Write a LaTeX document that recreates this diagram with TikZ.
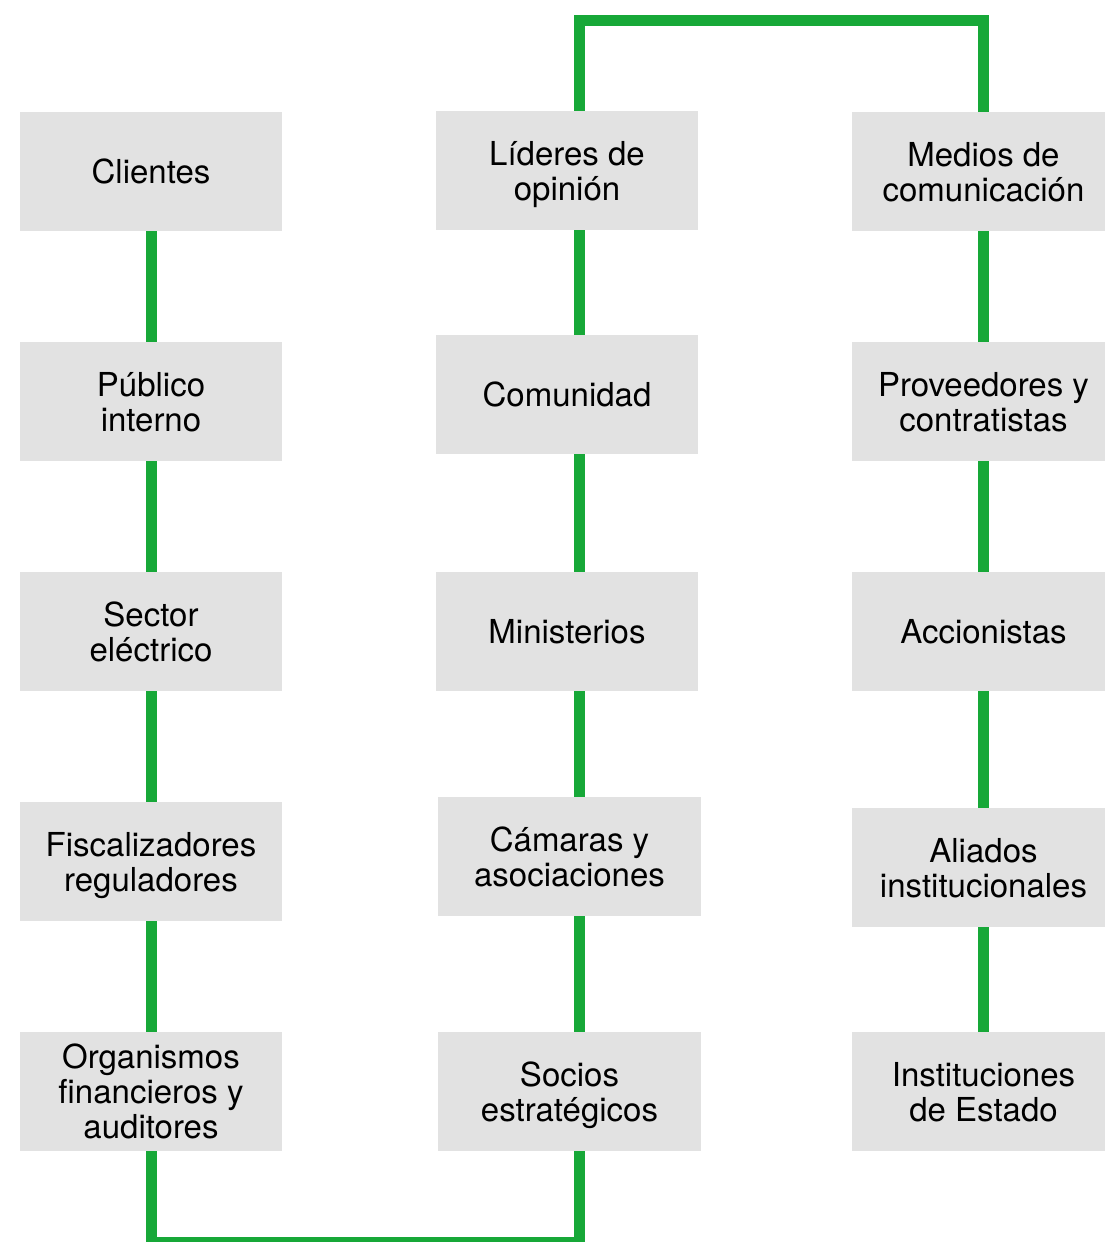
\documentclass[tikz,border=0pt]{standalone}
\usepackage{fontspec}
\setmainfont{TeX Gyre Heros}
\definecolor{linkgreen}{RGB}{23,168,56}
\definecolor{boxgray}{RGB}{226,226,226}
\tikzset{
  box/.style={fill=boxgray, draw=none, minimum height=119pt, inner sep=0pt,
    align=center, text depth=0pt, font=\fontsize{33}{35}\selectfont},
  link/.style={draw=linkgreen, line width=11pt, line join=miter}
}
\begin{document}
\begin{tikzpicture}[x=1pt,y=-1pt]

\useasboundingbox (0,0) rectangle (1105,1242);  % page size

% Left column
\node[box, minimum width=262pt] (cli) at (151,171.5) {Clientes};
\node[box, minimum width=262pt] (pub) at (151,401.5) {Público\\interno};
\node[box, minimum width=262pt] (sec) at (151,631.5) {Sector\\eléctrico};
\node[box, minimum width=262pt] (fis) at (151,861.5) {Fiscalizadores\\reguladores};
\node[box, minimum width=262pt] (org) at (151,1091.5) {Organismos\\financieros y\\auditores};
% Middle column
\node[box, minimum width=262pt] (lid) at (567,170.5) {Líderes de\\opinión};
\node[box, minimum width=262pt] (com) at (567,394.5) {Comunidad};
\node[box, minimum width=262pt] (min) at (567,631.5) {Ministerios};
\node[box, minimum width=263pt] (cam) at (569.5,856.5) {Cámaras y\\asociaciones};
\node[box, minimum width=263pt] (soc) at (569.5,1091.5) {Socios\\estratégicos};
% Right column (runs off the page edge)
\node[box, minimum width=263pt] (med) at (983.5,171.5) {Medios de\\comunicación};
\node[box, minimum width=263pt] (pro) at (983.5,401.5) {Proveedores y\\contratistas};
\node[box, minimum width=263pt] (acc) at (983.5,631.5) {Accionistas};
\node[box, minimum width=263pt] (ali) at (983.5,867.5) {Aliados\\institucionales};
\node[box, minimum width=263pt] (ins) at (983.5,1091.5) {Instituciones\\de Estado};

% corner points of the green line
\coordinate (c1) at (151.5,1242);
\coordinate (c2) at (579.5,1242);
\coordinate (c2top) at (579.5,20);
\coordinate (c3) at (983.5,20);

\foreach \a/\b in {cli/pub, pub/sec, sec/fis, fis/org}
    \draw[link] (\a.south -| c1) -- (\b.north -| c1);
\foreach \a/\b in {lid/com, com/min, min/cam, cam/soc}
    \draw[link] (\a.south -| c2) -- (\b.north -| c2);
\foreach \a/\b in {med/pro, pro/acc, acc/ali, ali/ins}
    \draw[link] (\a.south -| c3) -- (\b.north -| c3);

% Bottom link
\draw[link] (org.south -| c1) -- (c1) -- (c2) -- (soc.south -| c2);
% Top link
\draw[link] (lid.north -| c2top) -- (c2top) -- (c3) -- (med.north -| c3);

\end{tikzpicture}
\end{document}
